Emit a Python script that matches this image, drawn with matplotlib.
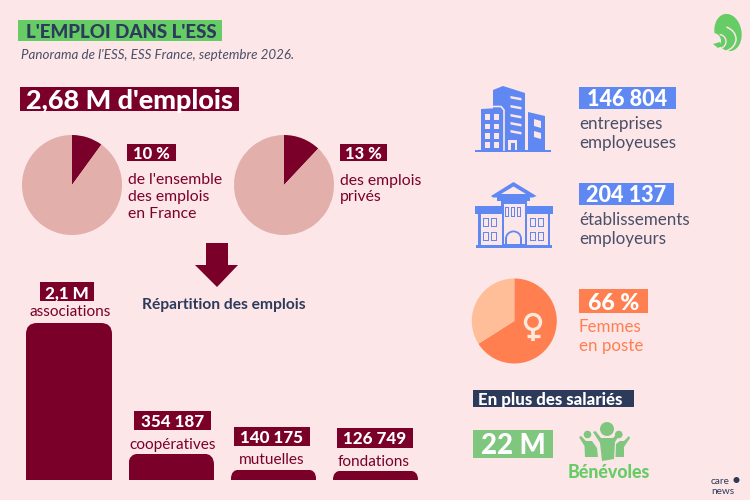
import matplotlib
matplotlib.use("Agg")
import matplotlib.pyplot as plt
from matplotlib.patches import Rectangle, Polygon, Circle, Ellipse, FancyBboxPatch, Arc, Wedge

plt.rcParams['font.family'] = ['Lato', 'DejaVu Sans']

# donnees
emplois_categories = ["associations", "coopératives", "mutuelles", "fondations"]
emplois_labels = ["2,1 M", "354 187", "140 175", "126 749"]
emplois_values = [2100000, 354187, 140175, 126749]
part_france = [10, 90]
part_prives = [12, 88]
part_femmes = [66, 34]

BG = "#FCE6E8"
MAROON = "#7A0029"
PINK = "#E2AFAA"
GREEN = "#66CC66"
SOFTGREEN = "#7FC77F"
NAVY = "#2E3A59"
BLUE = "#6088F2"
ORANGE = "#FF7F50"
PEACH = "#FFBE98"
GREY = "#4A4F68"

W, H = 750, 500
fig = plt.figure(figsize=(7.5, 5), dpi=100, facecolor=BG)
ax = fig.add_axes([0, 0, 1, 1])
ax.set_xlim(0, W)
ax.set_ylim(H, 0)
ax.axis("off")


def px(size):
    return size * 0.72


def box(x0, y0, x1, y1, color, label, size, tx=None):
    ax.add_patch(Rectangle((x0, y0), x1 - x0, y1 - y0, color=color, lw=0))
    if tx is None:
        ax.text((x0 + x1) / 2, (y0 + y1) / 2, label, color="white", fontsize=px(size),
                fontweight="black", ha="center", va="center_baseline")
    else:
        ax.text(tx, (y0 + y1) / 2, label, color="white", fontsize=px(size),
                fontweight="black", ha="left", va="center_baseline")


def txt(x, y, s, color, size, ha="left", **kw):
    ax.text(x, y, s, color=color, fontsize=px(size), ha=ha, va="center_baseline", **kw)


def pie(cx, cy, r, values, colors):
    a = fig.add_axes([(cx - r) / W, 1 - (cy + r) / H, 2 * r / W, 2 * r / H])
    a.pie(values, colors=colors, startangle=90, counterclock=False, radius=1,
          wedgeprops={"linewidth": 0})
    a.set_xlim(-1, 1)
    a.set_ylim(-1, 1)
    return a


# titre
ax.add_patch(Rectangle((18, 20), 204, 21, color=GREEN, lw=0))
txt(25.5, 30.8, "L'EMPLOI DANS L'ESS", NAVY, 18.8, fontweight="black")
txt(21, 54, "Panorama de l'ESS, ESS France, septembre 2026.", GREY, 13.4, style="italic")
box(20, 87, 239, 111, MAROON, "2,68 M d'emplois", 27)

# les deux camemberts
pie(72, 185, 50, part_france, [MAROON, PINK])
box(127, 144, 176, 161, MAROON, "10 %", 16.5)
for y, s in zip([178, 195, 212], ["de l'ensemble", "des emplois", "en France"]):
    txt(128, y, s, MAROON, 15.8)

pie(284, 185, 50, part_prives, [MAROON, PINK])
box(340, 144, 387, 161, MAROON, "13 %", 16.5)
for y, s in zip([179, 196], ["des emplois", "privés"]):
    txt(340, y, s, MAROON, 15.8)

# fleche
ax.add_patch(Polygon([(206, 243), (228, 243), (228, 265), (238, 265), (217, 287),
                      (195, 265), (206, 265)], color=MAROON, lw=0))
txt(223.5, 303, "Répartition des emplois", NAVY, 15.6, ha="center", fontweight="bold")

# barres : axe dont l'echelle va de 0 a 2,1 M
bar_bottom, bar_top = 480, 323
ax_bar = fig.add_axes([0, 1 - bar_bottom / H, 1, (bar_bottom - bar_top) / H])
ax_bar.set_xlim(0, W)
ax_bar.set_ylim(0, 2100000)
ax_bar.axis("off")
bar_lefts = [26, 128.5, 231, 333]
bar_widths = [86, 85.5, 85, 85]
bars = ax_bar.bar(bar_lefts, emplois_values, bar_widths, align="edge", color=MAROON, linewidth=0)
radii = [11, 11, 9, 9]
for rect_, r in zip(bars, radii):
    # coins arrondis en haut seulement, le bas depasse sous l'axe
    x0 = rect_.get_x()
    w = rect_.get_width()
    top = bar_bottom - rect_.get_height() / 2100000 * (bar_bottom - bar_top)
    clip = FancyBboxPatch((x0 + r, top + r), w - 2 * r, 200,
                          boxstyle="round,pad=%f,rounding_size=%f" % (r, r), transform=ax.transData)
    rect_.set_clip_path(clip)

label_boxes = [(40, 282, 94, 301), (134, 411, 211, 430), (234, 427, 310, 446), (337, 428, 413, 448)]
cat_pos = [(70, 311), (173, 444), (272, 458), (373.5, 460)]
for b, lab, cat, c in zip(label_boxes, emplois_labels, emplois_categories, cat_pos):
    box(b[0], b[1], b[2], b[3], MAROON, lab, 17)
    txt(c[0], c[1], cat, MAROON, 15.4, ha="center")


# icone immeubles
def poly(pts, color=BLUE):
    ax.add_patch(Polygon(pts, color=color, lw=0))


def rect(x, y, w, h, color=BLUE):
    ax.add_patch(Rectangle((x, y), w, h, color=color, lw=0))


poly([(493, 90), (503, 86), (525, 93), (525, 150), (493, 150)])
poly([(481, 109), (500, 108), (503, 111), (503, 150), (481, 150)])
ax.plot([493, 501, 504, 504], [106.5, 106.5, 110, 150], color=BG, lw=1.2)
poly([(528, 112), (545, 116), (545, 150), (528, 150)])
rect(475, 149.5, 75.5, 2.5)
for wx in [485, 493.5]:
    for wy in [114, 123.5, 133, 142]:
        rect(wx, wy, 5, 5.5, BG)
for wy in [96, 105, 114, 122, 130]:
    poly([(510.5, wy), (521.5, wy + 2), (521.5, wy + 4.5), (510.5, wy + 2.5)], BG)
poly([(534, 119), (541, 121), (541, 128), (534, 126)], BG)
poly([(534, 131), (541, 133), (541, 139), (534, 137)], BG)
rect(508, 140, 9, 10, BG)
rect(511, 143, 4, 8, BLUE)
txt(579, 122.5, "entreprises", GREY, 17)
txt(579, 141.5, "employeuses", GREY, 17)
box(579, 87, 675.5, 108.5, BLUE, "146 804", 21.6)

# icone batiment
poly([(513.5, 182), (536.5, 196), (533, 197.5), (493, 197.5), (491, 196)])
poly([(513.5, 186.5), (526, 194), (501, 194)], BG)
rect(497, 197, 33, 4)
rect(501, 201, 26, 46)
rect(503.5, 204, 21, 40, BG)
rect(475, 206, 28, 8)
rect(525, 206, 28, 8)
rect(478, 213, 25, 34)
rect(525, 213, 25, 34)
rect(480.5, 214, 21, 30.5, BG)
rect(527, 214, 20.5, 30.5, BG)
rect(476, 245, 75.5, 2.5)
for wx in [505, 511, 517]:
    rect(wx, 206.5, 3.6, 10, BLUE)
    rect(wx + 0.8, 207.5, 2, 8, BG)
for wx in [483, 491, 530, 538]:
    for wy in [218, 232]:
        rect(wx, wy, 6, 9, BLUE)
        rect(wx + 1, wy + 1, 4, 7, BG)
ax.add_patch(Wedge((513.5, 239), 8.5, 180, 360, width=1.8, color=BLUE, lw=0))
rect(505, 238, 1.8, 8)
rect(520.2, 238, 1.8, 8)
txt(579, 218.5, "établissements", GREY, 17)
txt(579, 237.5, "employeurs", GREY, 17)
box(579, 183, 673.5, 204.5, BLUE, "204 137", 21.6)

# femmes
pie(514.3, 321, 42.5, part_femmes, [ORANGE, PEACH])
ax2 = fig.add_axes([0, 0, 1, 1])
ax2.set_xlim(0, W)
ax2.set_ylim(H, 0)
ax2.axis("off")
CREAM = "#FDE8DC"
ax2.add_patch(Circle((533, 322), 7.5, fc="none", ec=CREAM, lw=2.4))
ax2.plot([533, 533], [330, 341], color=CREAM, lw=2.6, solid_capstyle="butt")
ax2.plot([526.5, 539.5], [335.5, 335.5], color=CREAM, lw=2.4, solid_capstyle="butt")
box(579, 289, 647.5, 313, ORANGE, "66 %", 23)
txt(579, 326, "Femmes", ORANGE, 16.9)
txt(579, 345, "en poste", ORANGE, 16.9)

# benevoles
box(473, 390, 633.5, 407, NAVY, "En plus des salariés", 16.8, tx=478)
box(473, 430, 553, 458, SOFTGREEN, "22 M", 27.5)
ax.add_patch(Circle((607, 429), 7, color=SOFTGREEN, lw=0))
ax.add_patch(Circle((587.5, 434.5), 3.8, color=SOFTGREEN, lw=0))
ax.add_patch(Circle((618.8, 434.5), 3.8, color=SOFTGREEN, lw=0))
poly([(593, 432), (595.5, 431), (601, 438), (613, 438), (619, 431.5), (621, 433), (615, 442),
      (614, 459), (602, 461), (600, 443)], SOFTGREEN)
poly([(579, 437), (581, 436), (586, 441), (592, 441), (597, 448), (598, 457), (585, 457), (584.5, 446)],
     SOFTGREEN)
poly([(629, 436), (630, 438), (624, 447), (624, 457), (615.5, 457), (616, 444), (620, 441), (624, 441)],
     SOFTGREEN)
txt(609, 471, "Bénévoles", GREEN, 17.8, ha="center", fontweight="black")

# logos
ax.add_patch(Ellipse((728, 32.5), 27, 37.5, angle=-10, color=GREEN, lw=0))
ax.add_patch(Arc((720, 39), 32, 26, theta1=-62, theta2=65, color=BG, lw=1.1))
ax.add_patch(Wedge((713, 41), 8, 0, 360, color=BG, lw=0))
ax.add_patch(Arc((719, 41.5), 14, 14, theta1=-85, theta2=70, color=BG, lw=1.0))
poly([(713, 44), (720, 42), (722, 46), (718, 48)], GREEN)
txt(711, 480.5, "care", NAVY, 10)
txt(711, 490.5, "news", NAVY, 10)
ax.add_patch(Circle((736.5, 480), 3, color=NAVY, lw=0))

fig.savefig("out.png", dpi=100, facecolor=BG)
